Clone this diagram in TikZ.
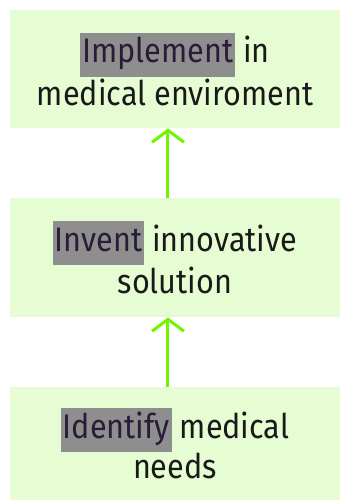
\documentclass[tikz,border=0pt]{standalone}
\usepackage{fontspec}
\setmainfont[FakeStretch=0.9]{Fira Sans}
\usetikzlibrary{arrows.meta}
\definecolor{boxgreen}{HTML}{E6FDD3}
\definecolor{arrowgreen}{HTML}{70F500}
\definecolor{hlgray}{HTML}{8E8E8E}
\definecolor{hltext}{HTML}{2A1C38}
\newcommand{\hlword}[1]{{\setlength{\fboxsep}{1pt}\colorbox{hlgray}{\strut\color{hltext}#1}}}
\begin{document}
\begin{tikzpicture}[x=0.5pt,y=-0.5pt,
    stage/.style={fill=boxgreen, minimum width=165pt, align=center,
        font=\fontsize{17}{20}\selectfont, text=black!90, inner sep=0pt},
    upflow/.style={draw=arrowgreen, line width=1.5pt,
        -{Straight Barb[length=6pt,width=16pt]}}]
    \useasboundingbox (0,0) rectangle (340,500);

    \node[stage, minimum height=59pt] (impl) at (175,69)
        {\hlword{Implement} in\\medical enviroment};
    \node[stage, minimum height=59.5pt] (inv) at (175,257.5)
        {\hlword{Invent} innovative\\solution};
    \node[stage, minimum height=56.5pt] (ident) at (175,443.5)
        {\hlword{Identify} medical\\needs};

    \draw[upflow] ([xshift=-3.5pt]inv.north) -- ([xshift=-3.5pt]impl.south);
    \draw[upflow] ([xshift=-3.5pt]ident.north) -- ([xshift=-3.5pt]inv.south);
\end{tikzpicture}
\end{document}
